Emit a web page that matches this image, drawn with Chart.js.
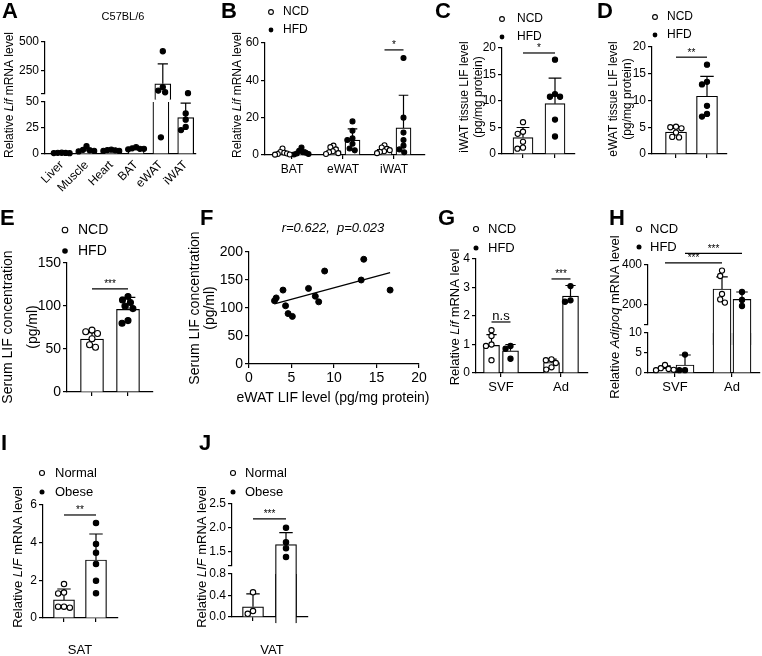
<!DOCTYPE html>
<html>
<head>
<meta charset="utf-8">
<script src="https://cdn.jsdelivr.net/npm/chart.js@4.4.1/dist/chart.umd.min.js"></script>
<style>
  html, body { margin: 0; padding: 0; background: #fff; }
  #fig { position: relative; width: 762px; height: 656px; overflow: hidden; background: #fff; }
  #fig canvas { position: absolute; }
</style>
</head>
<body>
<div id="fig"></div>
<script>
// ---------- data ----------
const ncdHfd = ['NCD', 'HFD'];
const normalObese = ['Normal', 'Obese'];

// A - C57BL/6 tissues
const aTissues = ['Liver', 'Muscle', 'Heart', 'BAT', 'eWAT', 'iWAT'];
const aMean = [1.0, 4.0, 3.5, 5.3, 138, 35];
const aSdTop = [1.3, 5.6, 4.2, 6.2, 310, 49];
const aPoints = [[1.2, 1.1, 1.0, 0.9, 0.8], [7.5, 4, 3.5, 3, 2.5], [4.2, 3.8, 3.5, 3, 3], [6.5, 5.5, 5, 5, 4.5], [420, 110, 80, 65, 16], [57, 39, 33, 26, 23]];
const aTicksLow = [0, 25, 50], aLabelsLow = ['0', '25', '50'];
const aTicksHigh = [50, 250, 500], aLabelsHigh = ['', '250', '500'];

// B - Lif mRNA by depot
const bDepots = ['BAT', 'eWAT', 'iWAT'];
const bNcdMean = [1.0, 2.3, 3.0];
const bNcdSdTop = [2.0, 3.8, 4.4];
const bHfdMean = [1.5, 8.0, 14.5];
const bHfdSdTop = [2.7, 14.0, 32];
const bNcdPoints = [[3.5, 1.6, 1.2, 0.8, 0.5, 0.3, 0.2], [5.0, 4.2, 3.0, 2.0, 1.5, 1.0, 0.5], [5.2, 4.0, 3.3, 2.6, 2.0, 1.6, 1.0]];
const bHfdPoints = [[4.0, 2.3, 1.5, 1.2, 0.8, 0.5, 0.3], [18, 13, 9, 8, 6, 3.5, 2.5], [52, 20, 12, 8, 5, 3, 1.5]];
const bTicks = [0, 20, 40, 60], bLabels = ['0', '20', '40', '60'];

// C - iWAT tissue LIF
const cMean = [3.1, 9.5];
const cSdTop = [5.0, 14.3];
const cPoints = [[6.0, 4.2, 3.8, 2.3, 1.2, 1.0], [17.8, 11.3, 10.8, 10.8, 6.5, 3.3]];
// D - eWAT tissue LIF
const dMean = [4.1, 10.8];
const dSdTop = [4.8, 14.5];
const dPoints = [[5.1, 5.0, 4.8, 4.0, 3.2, 3.1], [16.7, 13.5, 13.0, 9.0, 7.5, 7.0]];
const cdTicks = [0, 5, 10, 15, 20], cdLabels = ['0', '5', '10', '15', '20'];

// E - serum LIF
const eMean = [61.5, 96];
const eSdTop = [69, 110];
const ePoints = [[72, 70, 68, 62, 55, 52], [111, 107, 104, 100, 97, 83, 80]];
const eTicks = [0, 50, 100, 150], eLabels = ['0', '50', '100', '150'];

// F - correlation
const fEwatLif = [3.0, 3.2, 4.0, 4.3, 4.6, 5.1, 7.0, 7.8, 8.2, 8.9, 13.2, 13.5, 16.6];
const fSerumLif = [113, 118, 132, 104, 90, 85, 135, 121, 111, 166, 150, 187, 132];
const fXTicks = [0, 5, 10, 15, 20], fXLabels = ['0', '5', '10', '15', '20'];
const fYTicks = [0, 50, 100, 150, 200], fYLabels = ['0', '50', '100', '150', '200'];

// G - Lif in SVF / adipocytes
const fractions = ['SVF', 'Ad'];
const gNcdMean = [0.97, 0.37];
const gNcdSdTop = [1.35, 0.49];
const gHfdMean = [0.78, 2.7];
const gHfdSdTop = [1.0, 3.07];
const gNcdPoints = [[1.5, 1.3, 1.0, 0.95, 0.45], [0.48, 0.45, 0.35, 0.2, 0.12]];
const gHfdPoints = [[0.95, 0.85, 0.5], [3.05, 2.55, 2.5]];
const gTicks = [0, 1, 2, 3, 4], gLabels = ['0', '1', '2', '3', '4'];

// H - Adipoq in SVF / adipocytes
const hNcdMean = [1.2, 280];
const hNcdSdTop = [1.8, 341];
const hHfdMean = [2.0, 228];
const hHfdSdTop = [4.5, 265];
const hNcdPoints = [[2.0, 1.2, 1.0, 0.8, 0.7], [372, 345, 255, 228, 212]];
const hHfdPoints = [[4.6, 0.7, 0.7], [265, 225, 195]];
const hTicksLow = [0, 5, 10], hLabelsLow = ['0', '5', '10'];
const hTicksHigh = [100, 200, 400], hLabelsHigh = ['', '200', '400'];

// I - human SAT
const iMean = [0.96, 3.08];
const iSdTop = [1.54, 4.46];
const iPoints = [[1.8, 1.35, 1.3, 0.6, 0.6, 0.55], [5.05, 3.93, 3.47, 2.87, 1.98, 1.31]];
const iTicks = [0, 2, 4, 6], iLabels = ['0', '2', '4', '6'];

// J - human VAT
const jMean = [0.19, 1.65];
const jSdTop = [0.43, 1.9];
const jPoints = [[0.46, 0.11, 0.06], [2.0, 1.7, 1.57, 1.39]];
const jTicksLow = [0, 0.4, 0.8], jLabelsLow = ['0.0', '0.4', '0.8'];
const jTicksHigh = [1.2, 1.5, 2.0, 2.5], jLabelsHigh = ['', '1.5', '2.0', '2.5'];

// ---------- setup ----------
const FONT = "'Liberation Sans', Arial, Helvetica, sans-serif";
Chart.defaults.font.family = FONT;
Chart.defaults.color = '#000';
Chart.defaults.animation = false;
Chart.defaults.responsive = false;
Chart.defaults.plugins.legend.display = false;
Chart.defaults.plugins.tooltip.enabled = false;

const fig = document.getElementById('fig');
const LW = 1.2;

function addCanvas(box) {
    const c = document.createElement('canvas');
    c.width = box[2] - box[0];
    c.height = box[3] - box[1];
    c.style.left = box[0] + 'px';
    c.style.top = box[1] + 'px';
    fig.appendChild(c);
    return c;
}

// beeswarm offsets (px) so dots don't overlap, squeezed to fit the bar
function swarm(pys, d, lim) {
    const xs = [];
    pys.forEach((py, i) => {
        const cands = [0];
        for (let j = 0; j < i; j++) {
            const dy = py - pys[j];
            if (Math.abs(dy) < d) {
                const w = Math.sqrt(d * d - dy * dy);
                cands.push(xs[j] - w, xs[j] + w);
            }
        }
        cands.sort((a, b) => Math.abs(a) - Math.abs(b));
        const ok = c => xs.every((x, j) => Math.hypot(c - x, py - pys[j]) >= d - 1e-6);
        xs.push(cands.find(ok));
    });
    const maxAbs = Math.max(0, ...xs.map(Math.abs));
    return maxAbs > lim ? xs.map(v => v * lim / maxAbs) : xs;
}

function drawText(ctx, t, rotate) {
    ctx.save();
    ctx.translate(t.x, t.y);
    if (rotate) ctx.rotate(-Math.PI / 2);
    const fonts = t.parts.map(pt => `${pt[1] ? 'italic ' : ''}${t.size}px ${FONT}`);
    let total = 0;
    const widths = t.parts.map((pt, i) => {
        ctx.font = fonts[i];
        const w = ctx.measureText(pt[0]).width;
        total += w;
        return w;
    });
    let x = -total / 2;
    ctx.textAlign = 'left';
    ctx.textBaseline = 'middle';
    ctx.fillStyle = '#000';
    t.parts.forEach((pt, i) => {
        ctx.font = fonts[i];
        ctx.fillText(pt[0], x, 0);
        x += widths[i];
    });
    ctx.restore();
}

function drawDeco(chart, p, ppu) {
    const ctx = chart.ctx;
    ctx.save();
    ctx.fillStyle = '#000';
    ctx.strokeStyle = '#000';
    ctx.lineWidth = LW;
    // significance brackets (data units)
    (p.brackets || []).forEach(b => {
        const xs = chart.scales.x, ys = chart.scales.y;
        const x1 = xs.getPixelForValue(b.g1 + b.o1 / ppu);
        const x2 = xs.getPixelForValue(b.g2 + b.o2 / ppu);
        const y = ys.getPixelForValue(b.y);
        ctx.beginPath();
        ctx.moveTo(x1, y);
        ctx.lineTo(x2, y);
        ctx.stroke();
        ctx.font = `${b.size || 10}px ${FONT}`;
        ctx.textAlign = 'center';
        ctx.textBaseline = 'alphabetic';
        ctx.fillText(b.t, (x1 + x2) / 2, y - (b.size ? 2 : 1.5));
    });
    ctx.translate(-p.box[0], -p.box[1]);
    if (p.letter) {
        ctx.font = `bold 22px ${FONT}`;
        ctx.textAlign = 'left';
        ctx.textBaseline = 'alphabetic';
        ctx.fillText(p.letter.t, p.letter.x, p.letter.y);
    }
    if (p.title) drawText(ctx, p.title, false);
    if (p.legend) {
        const lg = p.legend;
        lg.labels.forEach((lab, i) => {
            const cy = lg.ys[i];
            ctx.beginPath();
            ctx.arc(lg.x, cy, lg.r, 0, Math.PI * 2);
            if (i === 1) { ctx.fillStyle = '#000'; ctx.fill(); }
            else { ctx.fillStyle = '#fff'; ctx.fill(); ctx.lineWidth = 1.1; ctx.stroke(); }
            ctx.fillStyle = '#000';
            ctx.font = `${lg.size}px ${FONT}`;
            ctx.textAlign = 'left';
            ctx.textBaseline = 'middle';
            ctx.fillText(lab, lg.tx, cy);
        });
    }
    (p.yTitles || []).forEach(t => drawText(ctx, t, true));
    (p.xTitles || []).forEach(t => drawText(ctx, t, false));
    ctx.restore();
}

function axisStyle(tickMarks) {
    return {
        grid: { display: true, offset: false, drawOnChartArea: false, drawTicks: tickMarks, tickLength: 4, color: '#000', lineWidth: LW },
        border: { display: true, color: '#000', width: LW }
    };
}

// bar + dots panel, optionally with a broken y axis (segs bottom -> top)
function barPanel(p) {
    const n = p.nGroups;
    const ppu = (p.gLast - p.gFirst) / (n - 1);
    const xmin = -(p.gFirst - p.plot.l) / ppu;
    const xmax = (n - 1) + (p.plot.r - p.gLast) / ppu;
    const [bl, bt, br, bb] = p.box;

    p.segs.forEach((seg, si) => {
        const isBottom = si === 0, isTop = si === p.segs.length - 1;
        const lo = isBottom ? -Infinity : p.segs[si - 1].max;
        const hi = isTop ? Infinity : seg.max;
        const pyOf = v => seg.b - (v - seg.min) / (seg.max - seg.min) * (seg.b - seg.t);
        const datasets = [];

        p.series.forEach(s => {
            const xs = s.at.map(g => g + s.off / ppu);
            datasets.push({
                type: 'bar', order: 3, grouped: false, barThickness: p.thick,
                data: xs.map((x, k) => ({ x, y: (isBottom || s.mean[k] > seg.min) ? s.mean[k] : null })),
                backgroundColor: '#fff', borderColor: '#000', borderWidth: LW, borderSkipped: 'start',
                clip: { left: false, right: false, top: 0, bottom: false },
                errInfo: xs.map((x, k) => ({ x, mean: s.mean[k], top: s.err[k] }))
            });
            const pts = [];
            xs.forEach((x, k) => {
                const vals = s.pts[k].filter(v => v > lo && v <= hi);
                const dx = swarm(vals.map(pyOf), p.r * 2 + 0.5, p.thick * 0.5);
                vals.forEach((v, j) => pts.push({ x: x + dx[j] / ppu, y: v }));
            });
            datasets.push({
                type: 'scatter', order: 1, data: pts, clip: false,
                pointRadius: p.r, pointBorderWidth: 1.1,
                pointBackgroundColor: s.filled ? '#000' : '#fff', pointBorderColor: '#000'
            });
        });

        const yScale = Object.assign({
            type: 'linear', min: seg.min, max: seg.max,
            afterFit: sc => { sc.width = p.plot.l - bl; },
            afterBuildTicks: sc => { sc.ticks = seg.ticks.map(v => ({ value: v })); },
            ticks: { autoSkip: false, padding: 2, font: { size: p.tickSize }, color: '#000', callback: (v, i) => seg.labels[i] }
        }, axisStyle(true));

        const xScale = isBottom ? Object.assign({
            type: 'linear', min: xmin, max: xmax, offset: false,
            afterFit: sc => { sc.height = bb - seg.b; },
            afterBuildTicks: sc => { sc.ticks = p.xLabels.map((_, i) => ({ value: i })); },
            ticks: {
                autoSkip: false, maxRotation: p.xRot || 0, minRotation: p.xRot || 0,
                padding: p.xTickMarks === false ? 4 : 3, font: { size: p.xSize }, color: '#000',
                callback: (v, i) => p.xLabels[i]
            }
        }, axisStyle(p.xTickMarks !== false)) : { type: 'linear', display: false, min: xmin, max: xmax, offset: false };

        new Chart(addCanvas(p.box), {
            type: 'bar',
            data: { datasets },
            options: {
                layout: { autoPadding: false, padding: { left: 0, top: seg.t - bt, right: br - p.plot.r, bottom: isBottom ? 0 : bb - seg.b } },
                scales: { x: xScale, y: yScale }
            },
            plugins: [{
                id: 'deco',
                afterDatasetDraw(chart, args) {
                    const ds = chart.data.datasets[args.index];
                    if (!ds.errInfo) return;
                    const xs = chart.scales.x, ys = chart.scales.y, ctx = chart.ctx;
                    ctx.save();
                    ctx.strokeStyle = '#000';
                    ctx.lineWidth = LW;
                    ds.errInfo.forEach(e => {
                        if (e.top <= ys.min || e.mean >= ys.max) return;
                        const x = xs.getPixelForValue(e.x);
                        const y0 = ys.getPixelForValue(Math.max(e.mean, ys.min));
                        const y1 = ys.getPixelForValue(Math.min(e.top, ys.max));
                        ctx.beginPath();
                        ctx.moveTo(x, y0);
                        ctx.lineTo(x, y1);
                        if (e.top <= ys.max) {
                            const w = p.thick * 0.32;
                            ctx.moveTo(x - w, y1);
                            ctx.lineTo(x + w, y1);
                        }
                        ctx.stroke();
                    });
                    ctx.restore();
                },
                afterDraw(chart) {
                    if (isTop) drawDeco(chart, p, ppu);
                }
            }]
        });
    });
}

const open = false, filled = true;
const nd = ['', ''];

barPanel({
    box: [0, 0, 200, 200], plot: { l: 45, r: 198 }, nGroups: 6, gFirst: 62, gLast: 188, thick: 16, r: 2.6,
    segs: [{ t: 102, b: 154, min: 0, max: 50, ticks: aTicksLow, labels: aLabelsLow },
           { t: 42, b: 94, min: 50, max: 500, ticks: aTicksHigh, labels: aLabelsHigh }],
    series: [{ at: [0, 1, 2, 3, 4, 5], off: 0, mean: aMean, err: aSdTop, pts: aPoints, filled }],
    xLabels: aTissues, xRot: 45, xTickMarks: false, tickSize: 12, xSize: 12,
    letter: { t: 'A', x: 2, y: 18 },
    title: { x: 123, y: 17, size: 11, parts: [['C57BL/6']] },
    yTitles: [{ x: 10, y: 95, size: 12, parts: [['Relative '], ['Lif', 1], [' mRNA level']] }]
});

barPanel({
    box: [195, 0, 430, 200], plot: { l: 265, r: 425 }, nGroups: 3, gFirst: 292, gLast: 394, thick: 15, r: 2.5,
    segs: [{ t: 43, b: 155, min: 0, max: 60, ticks: bTicks, labels: bLabels }],
    series: [{ at: [0, 1, 2], off: -9.5, mean: bNcdMean, err: bNcdSdTop, pts: bNcdPoints, filled: open },
             { at: [0, 1, 2], off: 9.5, mean: bHfdMean, err: bHfdSdTop, pts: bHfdPoints, filled }],
    xLabels: bDepots, tickSize: 12, xSize: 12,
    letter: { t: 'B', x: 221, y: 18 },
    legend: { labels: ncdHfd, x: 271, tx: 283, ys: [12, 30], r: 2.4, size: 12 },
    yTitles: [{ x: 238, y: 95, size: 12, parts: [['Relative '], ['Lif', 1], [' mRNA level']] }],
    brackets: [{ g1: 2, o1: -9.5, g2: 2, o2: 9.5, y: 56.3, t: '*' }]
});

barPanel({
    box: [430, 0, 590, 200], plot: { l: 502, r: 575 }, nGroups: 2, gFirst: 523, gLast: 555, thick: 20, r: 2.6,
    segs: [{ t: 48, b: 154, min: 0, max: 20, ticks: cdTicks, labels: cdLabels }],
    series: [{ at: [0], off: 0, mean: [cMean[0]], err: [cSdTop[0]], pts: [cPoints[0]], filled: open },
             { at: [1], off: 0, mean: [cMean[1]], err: [cSdTop[1]], pts: [cPoints[1]], filled }],
    xLabels: nd, tickSize: 12, xSize: 12,
    letter: { t: 'C', x: 435, y: 18 },
    legend: { labels: ncdHfd, x: 502, tx: 517, ys: [19, 37], r: 2.4, size: 12 },
    yTitles: [{ x: 465, y: 97, size: 12, parts: [['iWAT tissue LIF level']] },
              { x: 479, y: 97, size: 12, parts: [['(pg/mg protein)']] }],
    brackets: [{ g1: 0, o1: 0, g2: 1, o2: 0, y: 19.06, t: '*' }]
});

barPanel({
    box: [590, 0, 762, 200], plot: { l: 652, r: 727 }, nGroups: 2, gFirst: 676, gLast: 707, thick: 21, r: 2.6,
    segs: [{ t: 47, b: 154, min: 0, max: 20, ticks: cdTicks, labels: cdLabels }],
    series: [{ at: [0], off: 0, mean: [dMean[0]], err: [dSdTop[0]], pts: [dPoints[0]], filled: open },
             { at: [1], off: 0, mean: [dMean[1]], err: [dSdTop[1]], pts: [dPoints[1]], filled }],
    xLabels: nd, tickSize: 12, xSize: 12,
    letter: { t: 'D', x: 597, y: 18 },
    legend: { labels: ncdHfd, x: 655, tx: 667, ys: [17, 35], r: 2.4, size: 12 },
    yTitles: [{ x: 614, y: 99, size: 12, parts: [['eWAT tissue LIF level']] },
              { x: 628, y: 99, size: 12, parts: [['(pg/mg protein)']] }],
    brackets: [{ g1: 0, o1: 0, g2: 1, o2: 0, y: 18.1, t: '**' }]
});

barPanel({
    box: [0, 200, 200, 420], plot: { l: 67, r: 153 }, nGroups: 2, gFirst: 92, gLast: 128, thick: 23, r: 3,
    segs: [{ t: 263, b: 392, min: 0, max: 150, ticks: eTicks, labels: eLabels }],
    series: [{ at: [0], off: 0, mean: [eMean[0]], err: [eSdTop[0]], pts: [ePoints[0]], filled: open },
             { at: [1], off: 0, mean: [eMean[1]], err: [eSdTop[1]], pts: [ePoints[1]], filled }],
    xLabels: nd, tickSize: 14, xSize: 14,
    letter: { t: 'E', x: 0, y: 225 },
    legend: { labels: ncdHfd, x: 65, tx: 78, ys: [230, 251], r: 2.8, size: 14 },
    yTitles: [{ x: 8, y: 327, size: 14, parts: [['Serum LIF concentration']] },
              { x: 33, y: 327, size: 14, parts: [['(pg/ml)']] }],
    brackets: [{ g1: 0, o1: 0, g2: 1, o2: 0, y: 119.8, t: '***' }]
});

// F - scatter with least-squares line
(function () {
    const p = {
        box: [180, 200, 430, 420],
        letter: { t: 'F', x: 200, y: 225 },
        title: { x: 333, y: 228, size: 13, parts: [['r=0.622,  p=0.023', 1]] },
        yTitles: [{ x: 195, y: 308, size: 14, parts: [['Serum LIF concentration']] },
                  { x: 210, y: 308, size: 14, parts: [['(pg/ml)']] }],
        xTitles: [{ x: 333, y: 398, size: 14, parts: [['eWAT LIF level (pg/mg protein)']] }]
    };
    const plot = { l: 249, t: 252, r: 419, b: 364 };
    const nPts = fEwatLif.length;
    const mx = fEwatLif.reduce((a, b) => a + b, 0) / nPts;
    const my = fSerumLif.reduce((a, b) => a + b, 0) / nPts;
    let sxy = 0, sxx = 0;
    fEwatLif.forEach((x, i) => { sxy += (x - mx) * (fSerumLif[i] - my); sxx += (x - mx) * (x - mx); });
    const slope = sxy / sxx, icpt = my - slope * mx;
    const x0 = Math.min(...fEwatLif), x1 = Math.max(...fEwatLif);

    const yScale = Object.assign({
        type: 'linear', min: 0, max: 200,
        afterFit: sc => { sc.width = plot.l - p.box[0]; },
        afterBuildTicks: sc => { sc.ticks = fYTicks.map(v => ({ value: v })); },
        ticks: { autoSkip: false, padding: 2, font: { size: 14 }, color: '#000', callback: (v, i) => fYLabels[i] }
    }, axisStyle(true));
    const xScale = Object.assign({
        type: 'linear', min: 0, max: 20,
        afterFit: sc => { sc.height = p.box[3] - plot.b; },
        afterBuildTicks: sc => { sc.ticks = fXTicks.map(v => ({ value: v })); },
        ticks: { autoSkip: false, maxRotation: 0, padding: 2, font: { size: 14 }, color: '#000', callback: (v, i) => fXLabels[i] }
    }, axisStyle(true));

    new Chart(addCanvas(p.box), {
        type: 'scatter',
        data: {
            datasets: [
                { data: fEwatLif.map((x, i) => ({ x, y: fSerumLif[i] })), pointRadius: 3, pointBackgroundColor: '#000', pointBorderColor: '#000', clip: false },
                { type: 'line', data: [{ x: x0, y: icpt + slope * x0 }, { x: x1, y: icpt + slope * x1 }], borderColor: '#000', borderWidth: LW, pointRadius: 0, showLine: true, fill: false }
            ]
        },
        options: {
            layout: { autoPadding: false, padding: { left: 0, top: plot.t - p.box[1], right: p.box[2] - plot.r, bottom: 0 } },
            scales: { x: xScale, y: yScale }
        },
        plugins: [{ id: 'deco', afterDraw(chart) { drawDeco(chart, p, 1); } }]
    });
})();

barPanel({
    box: [430, 200, 600, 420], plot: { l: 476, r: 588 }, nGroups: 2, gFirst: 501, gLast: 561, thick: 16, r: 2.6,
    segs: [{ t: 259, b: 373, min: 0, max: 4, ticks: gTicks, labels: gLabels }],
    series: [{ at: [0, 1], off: -9.5, mean: gNcdMean, err: gNcdSdTop, pts: gNcdPoints, filled: open },
             { at: [0, 1], off: 9.5, mean: gHfdMean, err: gHfdSdTop, pts: gHfdPoints, filled }],
    xLabels: fractions, tickSize: 12, xSize: 13,
    letter: { t: 'G', x: 438, y: 225 },
    legend: { labels: ncdHfd, x: 476, tx: 488, ys: [229, 248], r: 2.5, size: 13 },
    yTitles: [{ x: 455, y: 317, size: 13, parts: [['Relative '], ['Lif', 1], [' mRNA level']] }],
    brackets: [{ g1: 0, o1: -9.5, g2: 0, o2: 9.5, y: 1.79, t: 'n.s', size: 13 },
               { g1: 1, o1: -9.5, g2: 1, o2: 9.5, y: 3.3, t: '***' }]
});

barPanel({
    box: [600, 200, 762, 420], plot: { l: 648, r: 760 }, nGroups: 2, gFirst: 675, gLast: 732, thick: 18, r: 2.6,
    segs: [{ t: 333, b: 373, min: 0, max: 10, ticks: hTicksLow, labels: hLabelsLow },
           { t: 265, b: 325, min: 100, max: 400, ticks: hTicksHigh, labels: hLabelsHigh }],
    series: [{ at: [0, 1], off: -10, mean: hNcdMean, err: hNcdSdTop, pts: hNcdPoints, filled: open },
             { at: [0, 1], off: 10, mean: hHfdMean, err: hHfdSdTop, pts: hHfdPoints, filled }],
    xLabels: fractions, tickSize: 12, xSize: 13,
    letter: { t: 'H', x: 609, y: 225 },
    legend: { labels: ncdHfd, x: 639, tx: 650, ys: [229, 247], r: 2.5, size: 13 },
    yTitles: [{ x: 615, y: 317, size: 13, parts: [['Relative '], ['Adipoq', 1], [' mRNA level']] }],
    brackets: [{ g1: 0, o1: 10, g2: 1, o2: 10, y: 458, t: '***' },
               { g1: 0, o1: -10, g2: 1, o2: -10, y: 411, t: '***' }]
});

barPanel({
    box: [0, 420, 200, 656], plot: { l: 43, r: 118 }, nGroups: 2, gFirst: 64, gLast: 96, thick: 21, r: 2.7,
    segs: [{ t: 505, b: 618, min: 0, max: 6, ticks: iTicks, labels: iLabels }],
    series: [{ at: [0], off: 0, mean: [iMean[0]], err: [iSdTop[0]], pts: [iPoints[0]], filled: open },
             { at: [1], off: 0, mean: [iMean[1]], err: [iSdTop[1]], pts: [iPoints[1]], filled }],
    xLabels: nd, tickSize: 12, xSize: 12,
    letter: { t: 'I', x: 1, y: 450 },
    legend: { labels: normalObese, x: 42, tx: 55, ys: [473, 492], r: 2.5, size: 13 },
    yTitles: [{ x: 18, y: 557, size: 13, parts: [['Relative '], ['LIF', 1], [' mRNA level']] }],
    xTitles: [{ x: 80, y: 650, size: 13, parts: [['SAT']] }],
    brackets: [{ g1: 0, o1: 0, g2: 1, o2: 0, y: 5.47, t: '**' }]
});

barPanel({
    box: [180, 420, 400, 656], plot: { l: 232, r: 308 }, nGroups: 2, gFirst: 253, gLast: 286, thick: 21, r: 2.7,
    segs: [{ t: 574, b: 617, min: 0, max: 0.8, ticks: jTicksLow, labels: jLabelsLow },
           { t: 504, b: 566, min: 1.2, max: 2.5, ticks: jTicksHigh, labels: jLabelsHigh }],
    series: [{ at: [0], off: 0, mean: [jMean[0]], err: [jSdTop[0]], pts: [jPoints[0]], filled: open },
             { at: [1], off: 0, mean: [jMean[1]], err: [jSdTop[1]], pts: [jPoints[1]], filled }],
    xLabels: nd, tickSize: 12, xSize: 12,
    letter: { t: 'J', x: 199, y: 450 },
    legend: { labels: normalObese, x: 233, tx: 245, ys: [473, 492], r: 2.5, size: 13 },
    yTitles: [{ x: 202, y: 557, size: 13, parts: [['Relative '], ['LIF', 1], [' mRNA level']] }],
    xTitles: [{ x: 272, y: 650, size: 13, parts: [['VAT']] }],
    brackets: [{ g1: 0, o1: 0, g2: 1, o2: 0, y: 2.19, t: '***' }]
});
</script>
</body>
</html>
